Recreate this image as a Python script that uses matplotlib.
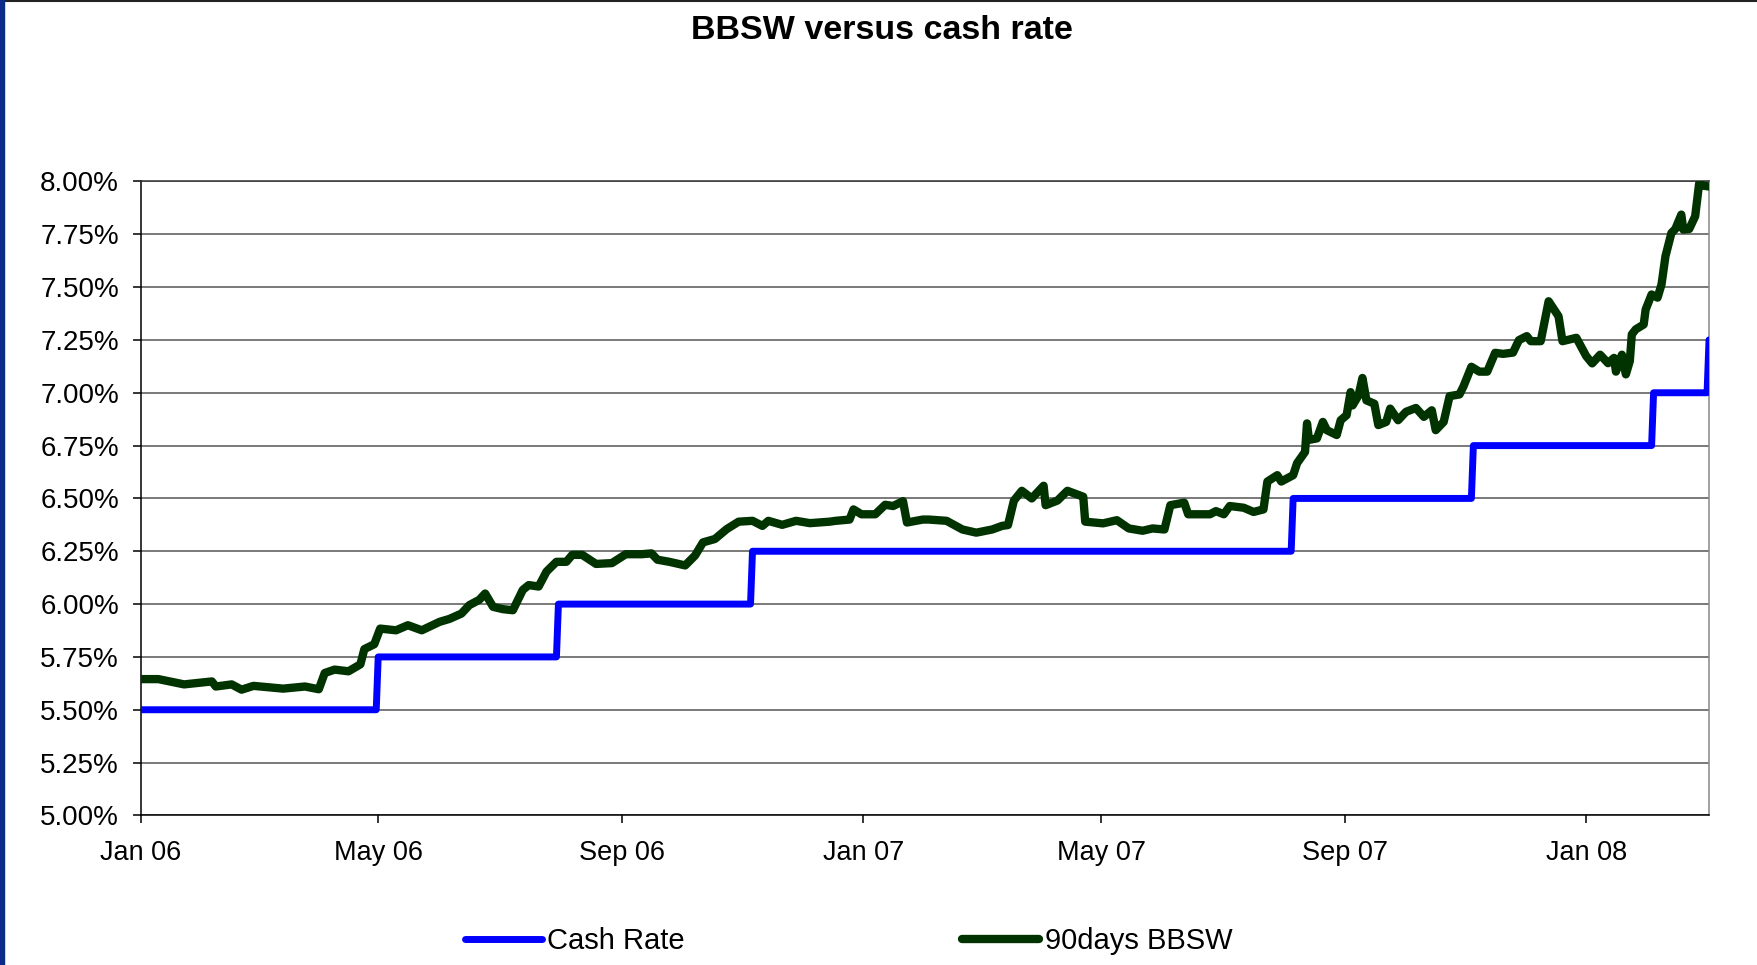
import matplotlib

matplotlib.use("Agg")
import matplotlib.dates as mdates
import matplotlib.pyplot as plt
import pandas as pd
from matplotlib.lines import Line2D
from matplotlib.patches import Rectangle
from matplotlib.ticker import FuncFormatter, MultipleLocator

plt.rcParams["font.family"] = ["Liberation Sans", "DejaVu Sans"]

# RBA cash rate: day before and day of each change
cash_dates = [
    "2006-01-03", "2006-05-02", "2006-05-03", "2006-08-01", "2006-08-02",
    "2006-11-07", "2006-11-08", "2007-08-07", "2007-08-08", "2007-11-06",
    "2007-11-07", "2008-02-05", "2008-02-06", "2008-03-04", "2008-03-05",
]
cash_values = [
    5.50, 5.50, 5.75, 5.75, 6.00,
    6.00, 6.25, 6.25, 6.50, 6.50,
    6.75, 6.75, 7.00, 7.00, 7.25,
]

# 90 day bank bill swap rate
bbsw_dates = [
    "2006-01-03", "2006-01-12", "2006-01-25", "2006-02-08", "2006-02-10",
    "2006-02-18", "2006-02-23", "2006-03-01", "2006-03-16", "2006-03-27",
    "2006-04-03", "2006-04-06", "2006-04-11", "2006-04-18", "2006-04-24",
    "2006-04-26", "2006-05-01", "2006-05-04", "2006-05-09", "2006-05-12",
    "2006-05-18", "2006-05-25", "2006-06-03", "2006-06-08", "2006-06-14",
    "2006-06-18", "2006-06-23", "2006-06-26", "2006-06-30", "2006-07-05",
    "2006-07-10", "2006-07-15", "2006-07-18", "2006-07-23", "2006-07-27",
    "2006-08-01", "2006-08-06", "2006-08-09", "2006-08-14", "2006-08-21",
    "2006-08-29", "2006-09-05", "2006-09-13", "2006-09-18", "2006-09-21",
    "2006-09-27", "2006-10-05", "2006-10-10", "2006-10-14", "2006-10-20",
    "2006-10-26", "2006-11-01", "2006-11-08", "2006-11-13", "2006-11-16",
    "2006-11-23", "2006-11-30", "2006-12-07", "2006-12-17", "2006-12-20",
    "2006-12-27", "2006-12-29", "2007-01-02", "2007-01-09", "2007-01-14",
    "2007-01-18", "2007-01-23", "2007-01-25", "2007-02-02", "2007-02-05",
    "2007-02-14", "2007-02-22", "2007-03-01", "2007-03-09", "2007-03-14",
    "2007-03-17", "2007-03-20", "2007-03-24", "2007-03-29", "2007-04-04",
    "2007-04-05", "2007-04-11", "2007-04-16", "2007-04-24", "2007-04-25",
    "2007-05-04", "2007-05-11", "2007-05-17", "2007-05-24", "2007-05-29",
    "2007-06-04", "2007-06-07", "2007-06-14", "2007-06-16", "2007-06-27",
    "2007-06-30", "2007-07-04", "2007-07-07", "2007-07-14", "2007-07-19",
    "2007-07-24", "2007-07-26", "2007-07-31", "2007-08-02", "2007-08-08",
    "2007-08-10", "2007-08-14", "2007-08-15", "2007-08-16", "2007-08-20",
    "2007-08-23", "2007-08-25", "2007-08-30", "2007-09-01", "2007-09-04",
    "2007-09-06", "2007-09-07", "2007-09-10", "2007-09-12", "2007-09-14",
    "2007-09-18", "2007-09-20", "2007-09-24", "2007-09-26", "2007-09-30",
    "2007-10-04", "2007-10-09", "2007-10-13", "2007-10-17", "2007-10-19",
    "2007-10-23", "2007-10-26", "2007-10-31", "2007-11-02", "2007-11-06",
    "2007-11-10", "2007-11-14", "2007-11-18", "2007-11-22", "2007-11-27",
    "2007-11-30", "2007-12-04", "2007-12-06", "2007-12-11", "2007-12-15",
    "2007-12-20", "2007-12-22", "2007-12-29", "2008-01-03", "2008-01-06",
    "2008-01-10", "2008-01-14", "2008-01-17", "2008-01-18", "2008-01-21",
    "2008-01-23", "2008-01-25", "2008-01-26", "2008-01-28", "2008-02-01",
    "2008-02-02", "2008-02-05", "2008-02-08", "2008-02-10", "2008-02-12",
    "2008-02-15", "2008-02-17", "2008-02-20", "2008-02-21", "2008-02-24",
    "2008-02-27", "2008-02-29", "2008-03-02", "2008-03-05",
]
bbsw_values = [
    5.645, 5.645, 5.62, 5.634, 5.61,
    5.62, 5.595, 5.613, 5.60, 5.61,
    5.597, 5.674, 5.69, 5.682, 5.715,
    5.787, 5.81, 5.884, 5.879, 5.876,
    5.90, 5.876, 5.916, 5.93, 5.955,
    5.995, 6.02, 6.05, 5.987, 5.976,
    5.971, 6.067, 6.09, 6.083, 6.154,
    6.20, 6.20, 6.233, 6.233, 6.19,
    6.194, 6.236, 6.236, 6.24, 6.21,
    6.20, 6.183, 6.23, 6.292, 6.308,
    6.355, 6.39, 6.394, 6.37, 6.394,
    6.375, 6.394, 6.383, 6.39, 6.394,
    6.40, 6.448, 6.425, 6.425, 6.47,
    6.464, 6.487, 6.386, 6.40, 6.40,
    6.394, 6.353, 6.338, 6.353, 6.37,
    6.374, 6.49, 6.536, 6.50, 6.56,
    6.468, 6.49, 6.536, 6.508, 6.39,
    6.382, 6.397, 6.358, 6.347, 6.358,
    6.353, 6.468, 6.48, 6.425, 6.425,
    6.44, 6.425, 6.464, 6.456, 6.436,
    6.448, 6.58, 6.61, 6.58, 6.61,
    6.667, 6.72, 6.855, 6.777, 6.784,
    6.862, 6.823, 6.80, 6.87, 6.894,
    7.003, 6.94, 6.987, 7.07, 6.964,
    6.948, 6.847, 6.862, 6.925, 6.87,
    6.91, 6.928, 6.886, 6.917, 6.823,
    6.862, 6.984, 6.992, 7.03, 7.123,
    7.10, 7.10, 7.189, 7.184, 7.19,
    7.249, 7.268, 7.244, 7.244, 7.433,
    7.362, 7.244, 7.26, 7.173, 7.139,
    7.18, 7.14, 7.165, 7.10, 7.18,
    7.087, 7.15, 7.276, 7.30, 7.323,
    7.394, 7.465, 7.45, 7.512, 7.646,
    7.756, 7.775, 7.843, 7.772, 7.775,
    7.835, 7.99, 7.98, 7.976,
]

cash_x = pd.to_datetime(cash_dates)
bbsw_x = pd.to_datetime(bbsw_dates)

fig = plt.figure(figsize=(17.57, 9.65), dpi=100)
fig.patch.set_facecolor("white")
ax = fig.add_axes([0.08, 0.155, 0.8927, 0.657])

ax.plot(cash_x, cash_values, color="#0000FF", linewidth=5.0,
        solid_capstyle="round", solid_joinstyle="round", label="Cash Rate", zorder=3)
ax.plot(bbsw_x, bbsw_values, color="#003300", linewidth=6.0,
        solid_capstyle="round", solid_joinstyle="round", label="90days BBSW", zorder=4)

ax.set_xlim(pd.Timestamp("2006-01-03"), pd.Timestamp("2008-03-05"))
ax.set_ylim(5.0, 8.0)

ax.yaxis.set_major_locator(MultipleLocator(0.25))
ax.yaxis.set_major_formatter(FuncFormatter(lambda v, _: f"{v:.2f}%"))
ax.xaxis.set_major_locator(mdates.MonthLocator(bymonth=[1, 5, 9], bymonthday=3))
ax.xaxis.set_major_formatter(mdates.DateFormatter("%b %y"))

ax.grid(True, axis="y", color="#555555", linewidth=1.1)
ax.set_axisbelow(True)

for side in ("left", "bottom"):
    ax.spines[side].set_color("black")
    ax.spines[side].set_linewidth(1.1)
ax.spines["top"].set_color("#333333")
ax.spines["right"].set_color("#888888")
ax.spines["top"].set_linewidth(1.1)
ax.spines["right"].set_linewidth(1.1)

ax.tick_params(axis="y", direction="out", length=5.5, width=1.1, pad=10, labelsize=20)
ax.tick_params(axis="x", direction="out", length=5.5, width=1.1, pad=12, labelsize=19.5)

fig.text(0.502, 0.968, "BBSW versus cash rate", ha="center", va="center",
         fontsize=24.5, fontweight="bold")

handles, labels = ax.get_legend_handles_labels()
fig.legend(handles, labels, loc="center", bbox_to_anchor=(0.483, 0.025), ncol=2,
           frameon=False, fontsize=21, handlelength=2.64, handletextpad=0.2,
           columnspacing=9.5, borderpad=0)

# slide frame: navy bar on the left, dark rule along the top
fig.patches.append(Rectangle((0, 0), 4 / 1757, 1, transform=fig.transFigure,
                             color="#0b2a8a", zorder=10))
fig.lines.append(Line2D([0, 1], [1 - 1 / 965, 1 - 1 / 965], transform=fig.transFigure,
                        color="#222222", linewidth=1.5))

fig.savefig("out.png", dpi=100, facecolor="white")
plt.close(fig)
